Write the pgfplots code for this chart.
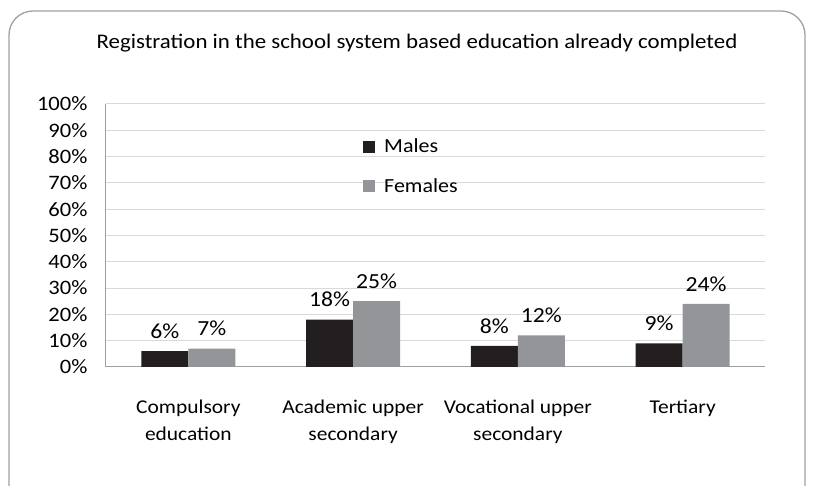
\documentclass[border=0pt]{standalone}
\usepackage{pgfplots}
\pgfplotsset{compat=1.18}
\usepackage{fontspec}
\setmainfont{Carlito}[FakeStretch=1.1]
\definecolor{barblack}{HTML}{231F20}
\definecolor{bargray}{HTML}{939598}
\definecolor{gridc}{HTML}{D9D9D9}
\definecolor{framec}{HTML}{A0A0A0}
\begin{document}
\begin{tikzpicture}[x=1pt,y=1pt]
\useasboundingbox (0,0) rectangle (815,486);
\begin{scope}
\clip (0,0) rectangle (815,486);
\draw[color=framec, line width=1.3pt, rounded corners=24pt] (9,-40) rectangle (805,475);
\end{scope}
\node[font=\fontsize{20.8}{24}\selectfont] at (417,443) {Registration in the school system based education already completed};
\begin{axis}[
  at={(106pt,119pt)}, anchor=south west,
  scale only axis, width=659pt, height=263pt,
  ybar=0pt, bar width=47pt,
  xmin=-0.5, xmax=3.5, ymin=0, ymax=100,
  ytick={0,10,...,100},
  yticklabel={\pgfmathprintnumber{\tick}\%},
  xtick={0,1,2,3},
  xticklabels={{Compulsory\\education},{Academic upper\\secondary},{Vocational upper\\secondary},{Tertiary}},
  xticklabel style={align=center, font=\fontsize{19.5}{27}\selectfont, yshift=-29pt, anchor=north},
  yticklabel style={font=\fontsize{20.5}{22}\selectfont, xshift=-15pt},
  /pgf/number format/assume math mode=true,
  axis x line*=bottom, axis y line*=left,
  axis line style={color=framec, line width=1pt, -},
  ymajorgrids, grid style={color=gridc, line width=1pt},
  major tick length=0pt,
  nodes near coords={\pgfmathprintnumber{\pgfplotspointmeta}\%},
  every node near coord/.append style={font=\fontsize{21.5}{22}\selectfont, yshift=9pt},
  legend image code/.code={\fill[#1] (0pt,-6pt) rectangle (12pt,6pt);},
  legend style={at={(0.39,0.875)}, anchor=north west, draw=none, fill=none,
    font=\fontsize{20}{22}\selectfont, row sep=20pt, inner sep=0pt,
    /tikz/every odd column/.append style={column sep=7pt}},
  legend cell align=left,
  clip=false,
]
\addplot[fill=barblack, draw=none] coordinates {(0,6) (1,18) (2,8) (3,9)};
\addplot[fill=bargray, draw=none] coordinates {(0,7) (1,25) (2,12) (3,24)};
\legend{Males,Females}
\end{axis}
\end{tikzpicture}
\end{document}
